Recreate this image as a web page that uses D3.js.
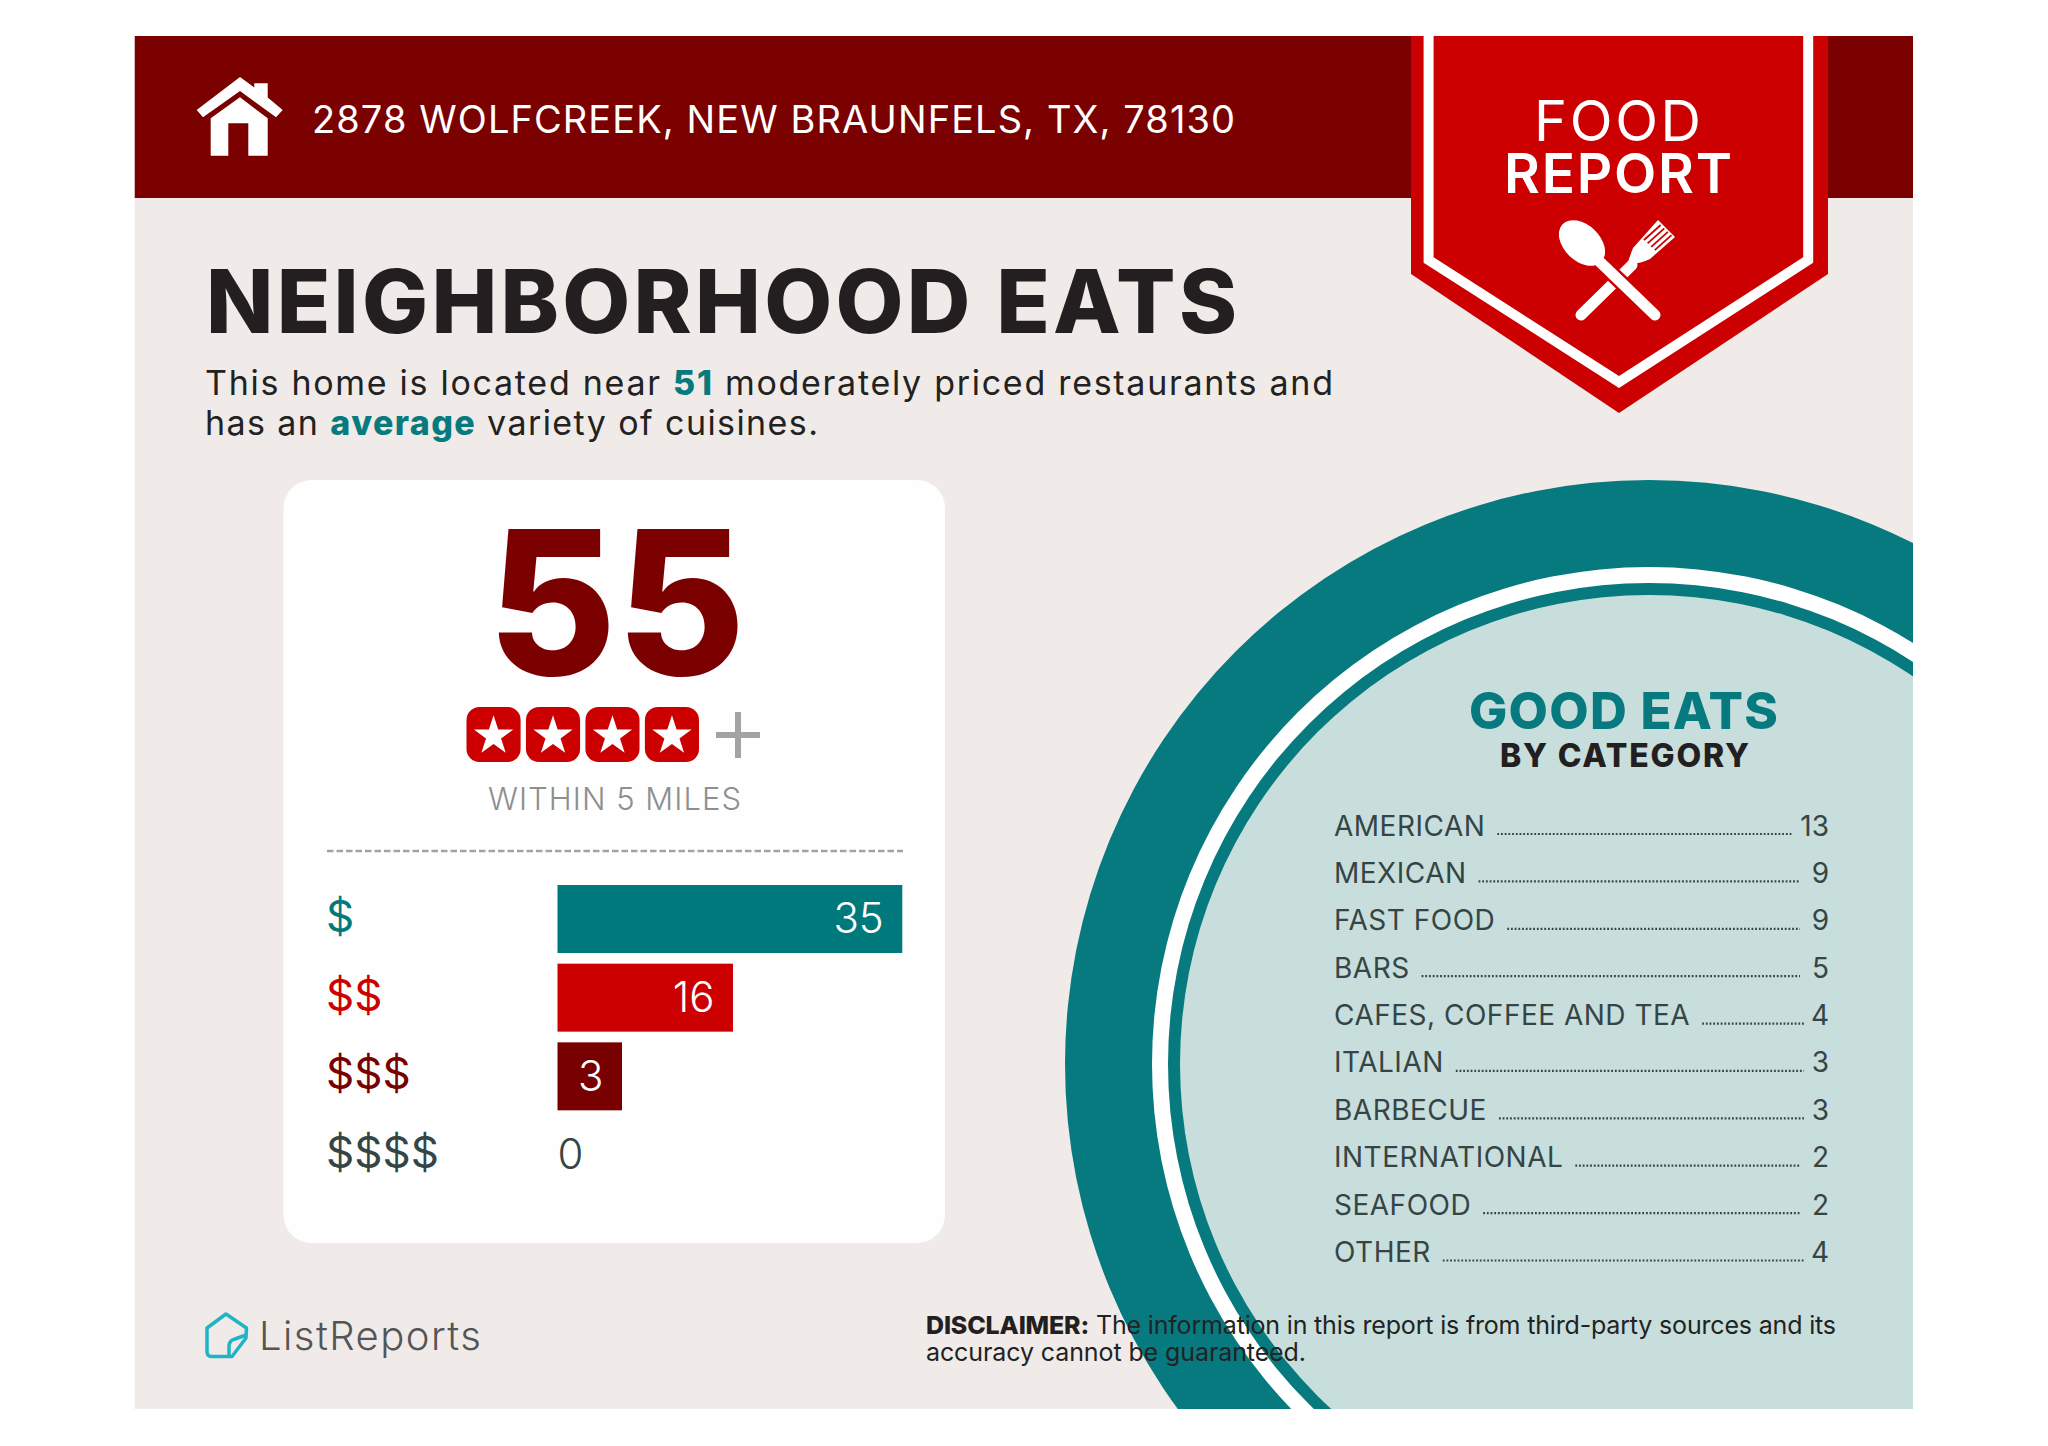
<!DOCTYPE html>
<html>
<head>
<meta charset="utf-8">
<script src="https://cdn.jsdelivr.net/npm/d3@7"></script>
<style>
  body { margin: 0; background: #fff; }
  svg { display: block; }
  text { font-family: Inter, Lato, sans-serif; }
</style>
</head>
<body>
<svg width="2048" height="1446"></svg>
<script>
var priceLabels = ['$', '$$', '$$$', '$$$$'];
var priceCounts = [35, 16, 3, 0];
var priceColors = ['#00797c', '#cc0000', '#780000', '#354545'];

var categories = ['AMERICAN', 'MEXICAN', 'FAST FOOD', 'BARS', 'CAFES, COFFEE AND TEA',
    'ITALIAN', 'BARBECUE', 'INTERNATIONAL', 'SEAFOOD', 'OTHER'];
var categoryCounts = [13, 9, 9, 5, 4, 3, 3, 2, 2, 4];

var score = 55;
var stars = [1, 2, 3, 4];
var nearby = 51;

var teal = '#067a7e', red = '#cc0000', maroon = '#7b0000', ink = '#231f20', slate = '#354545';

var svg = d3.select('svg');

// stretch or tighten a text to a measured width
function fit(sel, width) {
    var node = sel.node();
    var n = node.getNumberOfChars();
    var len = node.getComputedTextLength();
    sel.style('letter-spacing', ((width - len) / (n - 1)) + 'px');
    return sel;
}

function label(parent, x, y, str, size, weight, fill) {
    return parent.append('text')
        .attr('x', x)
        .attr('y', y)
        .style('font-size', size + 'px')
        .style('font-weight', weight)
        .style('fill', fill)
        .text(str);
}

// panel
svg.append('clipPath').attr('id', 'panel')
    .append('rect').attr('x', 134.5).attr('y', 36).attr('width', 1778.5).attr('height', 1373);

var page = svg.append('g').attr('clip-path', 'url(#panel)');
page.append('rect').attr('x', 134.5).attr('y', 36).attr('width', 1778.5).attr('height', 1373).style('fill', '#f0ebe8');
page.append('rect').attr('x', 134.5).attr('y', 36).attr('width', 1778.5).attr('height', 162).style('fill', maroon);

// plate
var rings = [[584, teal], [497, '#fff'], [481, teal], [469, '#c7dedc']];
page.selectAll('.ring')
    .data(rings)
    .enter()
    .append('circle')
    .attr('class', 'ring')
    .attr('cx', 1649)
    .attr('cy', 1064)
    .attr('r', function(d) { return d[0]; })
    .style('fill', function(d) { return d[1]; });

// header
svg.append('path')
    .attr('d', 'M240 77 L254.3 87.5 L254.3 83.3 L267.7 83.3 L267.7 97.5 L282.7 110 L276 117.3 L240 91 L203 117.3 L196.7 110 Z')
    .style('fill', '#fff');
svg.append('path')
    .attr('d', 'M240 97.3 L267.7 118.3 L267.7 155.7 L248.3 155.7 L248.3 123.3 L228.3 123.3 L228.3 155.7 L210.7 155.7 L210.7 118.3 Z')
    .style('fill', '#fff');
fit(label(svg, 312, 132.7, '2878 WOLFCREEK, NEW BRAUNFELS, TX, 78130', 38, 400, '#fff'), 923);

// ribbon
svg.append('path')
    .attr('d', 'M1411 36 L1828 36 L1828 274 L1619 413 L1411 274 Z')
    .style('fill', red);
svg.append('path')
    .attr('d', 'M1428.6 36 L1428.6 260 L1619 382 L1808.2 260 L1808.2 36')
    .style('fill', 'none')
    .style('stroke', '#fff')
    .style('stroke-width', 10);

fit(label(svg, 1534, 140.5, 'FOOD', 56, 400, '#fff'), 167);
fit(label(svg, 1504, 192.5, 'REPORT', 55, 600, '#fff'), 228);

// fork
svg.append('line')
    .attr('x1', 1581).attr('y1', 315).attr('x2', 1632).attr('y2', 265)
    .style('stroke', '#fff').style('stroke-width', 11).style('stroke-linecap', 'round');
svg.append('path')
    .attr('d', 'M1628 262 Q1631 253 1633 248 L1658 220 L1675 237 L1650 259 Q1642 263 1632 264 Z')
    .style('fill', '#fff');
svg.selectAll('.tine')
    .data([0, 1, 2, 3])
    .enter()
    .append('line')
    .attr('class', 'tine')
    .attr('x1', function(d) { return 1644 + d * 3.6; })
    .attr('y1', function(d) { return 240 + d * 3.4; })
    .attr('x2', function(d) { return 1660.7 + d * 3.6; })
    .attr('y2', function(d) { return 225 + d * 3.4; })
    .style('stroke', red)
    .style('stroke-width', 1.8);

// spoon, with a red edge where it crosses the fork
svg.append('line')
    .attr('x1', 1600).attr('y1', 262).attr('x2', 1655).attr('y2', 315)
    .style('stroke', red).style('stroke-width', 16);
svg.append('line')
    .attr('x1', 1600).attr('y1', 262).attr('x2', 1655).attr('y2', 315)
    .style('stroke', '#fff').style('stroke-width', 11).style('stroke-linecap', 'round');
svg.append('ellipse')
    .attr('cx', 0).attr('cy', 0).attr('rx', 27).attr('ry', 18)
    .attr('transform', 'translate(1582,243) rotate(44)')
    .style('fill', '#fff');

// title
fit(label(svg, 206, 333, 'NEIGHBORHOOD EATS', 88, 800, ink), 1031);

var line1 = label(svg, 205, 395, null, 34, 400, '#222');
line1.append('tspan').text('This home is located near ');
line1.append('tspan').text(nearby).style('font-weight', 800).style('fill', teal);
line1.append('tspan').text(' moderately priced restaurants and');
fit(line1, 1128);

var line2 = label(svg, 205, 435, null, 34, 400, '#222');
line2.append('tspan').text('has an ');
line2.append('tspan').text('average').style('font-weight', 800).style('fill', teal);
line2.append('tspan').text(' variety of cuisines.');
fit(line2, 613);

// card
svg.append('rect')
    .attr('x', 283.5).attr('y', 480).attr('width', 661.5).attr('height', 763).attr('rx', 28)
    .style('fill', '#fefefe');

label(svg, 487.5, 675, score, 200, 800, maroon)
    .attr('textLength', 258)
    .attr('lengthAdjust', 'spacingAndGlyphs');

var starX = d3.scaleBand()
    .domain(stars)
    .range([466.5, 699])
    .paddingInner(0.09);

var tile = svg.selectAll('.star')
    .data(stars)
    .enter()
    .append('g')
    .attr('class', 'star')
    .attr('transform', function(d) { return 'translate(' + starX(d) + ',707)'; });

tile.append('rect')
    .attr('width', starX.bandwidth())
    .attr('height', 55)
    .attr('rx', 13)
    .style('fill', red);

tile.append('path')
    .attr('d', d3.symbol().type(d3.symbolStar).size(480))
    .attr('transform', 'translate(' + starX.bandwidth() / 2 + ',29)')
    .style('fill', '#fff');

svg.append('path')
    .attr('d', 'M716 735 L760 735 M738 712 L738 758')
    .style('stroke', '#a3a3a3')
    .style('stroke-width', 6);

fit(label(svg, 488, 810, 'WITHIN 5 MILES', 31, 300, '#8f8f8f'), 253);

svg.append('line')
    .attr('x1', 327).attr('x2', 903).attr('y1', 851).attr('y2', 851)
    .style('stroke', '#a3a3a3')
    .style('stroke-width', 2.5)
    .style('stroke-dasharray', '6.5 3');

// price bars
var barLeft = 557.5;
var x = d3.scaleLinear()
    .domain([3, 16, 35])
    .range([622, 733, 902.3]);

var y = d3.scaleBand()
    .domain(priceLabels)
    .range([885, 1189])
    .paddingInner(0.136);

var row = svg.selectAll('.price')
    .data(priceLabels)
    .enter()
    .append('g')
    .attr('class', 'price')
    .attr('transform', function(d) { return 'translate(0,' + y(d) + ')'; });

row.append('text')
    .attr('x', 326)
    .attr('y', y.bandwidth() / 2 + 13)
    .style('font-size', '44px')
    .style('font-weight', 400)
    .style('fill', function(d, i) { return priceColors[i]; })
    .text(function(d) { return d; });

row.filter(function(d, i) { return priceCounts[i] > 0; })
    .append('rect')
    .attr('x', barLeft)
    .attr('width', function(d) { return x(priceCounts[priceLabels.indexOf(d)]) - barLeft; })
    .attr('height', y.bandwidth())
    .style('fill', function(d) { return priceColors[priceLabels.indexOf(d)]; });

row.append('text')
    .attr('x', function(d, i) {
        return priceCounts[i] > 0 ? x(priceCounts[i]) - 18.5 : barLeft;
    })
    .attr('y', function(d, i) {
        return y.bandwidth() / 2 + (priceCounts[i] > 0 ? 14.5 : 13.5);
    })
    .style('text-anchor', function(d, i) { return priceCounts[i] > 0 ? 'end' : 'start'; })
    .style('font-size', '42px')
    .style('font-weight', 300)
    .style('fill', function(d, i) { return priceCounts[i] > 0 ? '#fff' : slate; })
    .text(function(d, i) { return priceCounts[i]; });

// category list
fit(label(svg, 1469, 729, 'GOOD EATS', 51, 800, teal), 309);
fit(label(svg, 1500, 767, 'BY CATEGORY', 32, 800, ink), 249);

var leaderEnds = [1793, 1800, 1800, 1800, 1804, 1804, 1804, 1800, 1800, 1804];

var rowY = d3.scalePoint()
    .domain(categories)
    .range([835.5, 1262]);

var item = svg.selectAll('.category')
    .data(categories)
    .enter()
    .append('g')
    .attr('class', 'category')
    .attr('transform', function(d) { return 'translate(0,' + rowY(d) + ')'; });

item.append('text')
    .attr('class', 'name')
    .attr('x', 1334)
    .style('font-size', '28px')
    .style('font-weight', 400)
    .style('letter-spacing', '0.5px')
    .style('fill', slate)
    .text(function(d) { return d; });

item.append('text')
    .attr('x', 1829)
    .style('text-anchor', 'end')
    .style('font-size', '28px')
    .style('font-weight', 400)
    .style('fill', slate)
    .text(function(d, i) { return categoryCounts[i]; });

item.append('line')
    .attr('x1', function() {
        return 1334 + this.parentNode.querySelector('.name').getComputedTextLength() + 12;
    })
    .attr('x2', function(d, i) { return leaderEnds[i]; })
    .attr('y1', -1.5)
    .attr('y2', -1.5)
    .style('stroke', slate)
    .style('stroke-width', 2.2)
    .style('stroke-dasharray', '1.8 1.9');

// footer
svg.append('path')
    .attr('d', 'M226 1314 L246.5 1328 L246 1338 L232 1356.5 L211 1356.5 Q207 1356 207 1352 L207 1328 Z M229 1356 L229 1345 Q230 1340 235 1339 L246 1335')
    .style('fill', 'none')
    .style('stroke', '#1fb5c4')
    .style('stroke-width', 3.5)
    .style('stroke-linejoin', 'round');
fit(label(svg, 259, 1349.5, 'ListReports', 40, 300, '#555'), 222);

var note = label(svg, 926, 1334, null, 25, 400, '#222');
note.append('tspan').text('DISCLAIMER:').style('font-weight', 800).style('fill', ink);
note.append('tspan').text(' The information in this report is from third-party sources and its');
fit(note, 910);
fit(label(svg, 926, 1361, 'accuracy cannot be guaranteed.', 25, 400, '#222'), 380);
</script>
</body>
</html>
